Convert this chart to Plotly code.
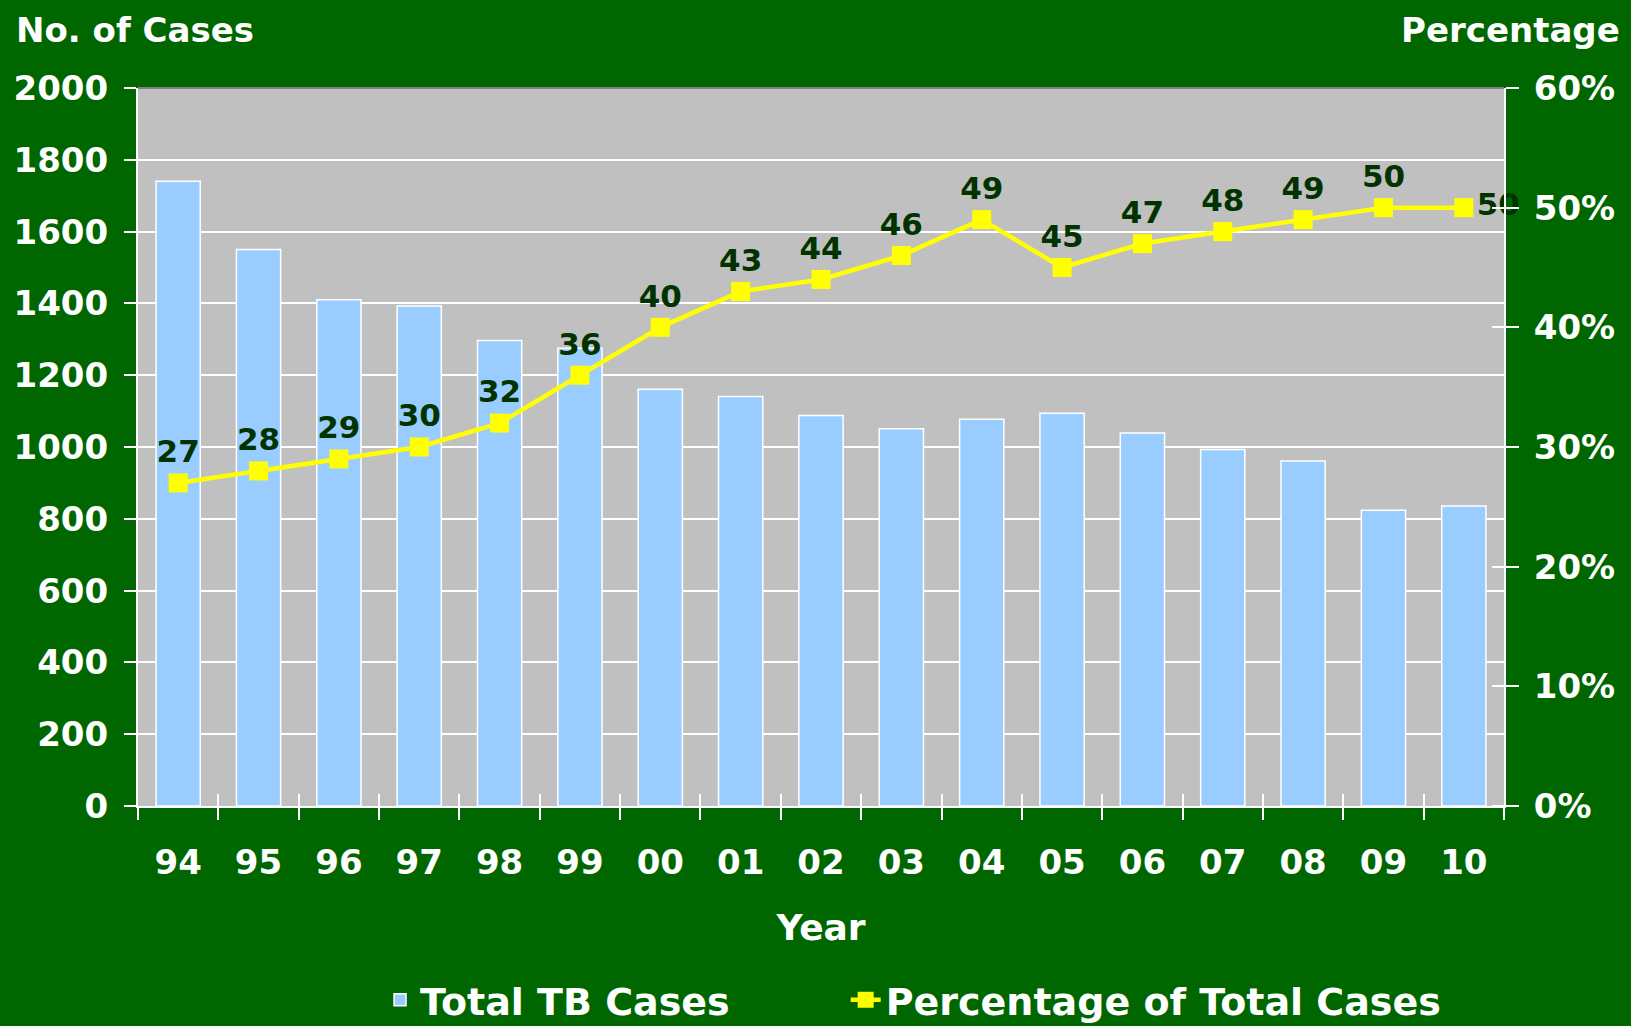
import plotly.graph_objects as go

years = ["94", "95", "96", "97", "98", "99", "00", "01", "02", "03",
         "04", "05", "06", "07", "08", "09", "10"]
total_cases = [1740, 1550, 1410, 1393, 1297, 1275, 1161, 1141, 1088, 1051,
               1077, 1094, 1039, 993, 961, 824, 836]
percentage = [27, 28, 29, 30, 32, 36, 40, 43, 44, 46, 49, 45, 47, 48, 49, 50, 50]
pct_labels = [str(v) for v in percentage]
text_pos = ["top center"] * (len(years) - 1) + ["middle right"]

FONT = "DejaVu Sans"
GREEN = "#006600"
WHITE = "#FFFFFF"

fig = go.Figure()

fig.add_trace(go.Bar(
    x=years, y=total_cases, name="Total TB Cases",
    marker=dict(color="#99CCFF", line=dict(color=WHITE, width=1.5)),
    hoverinfo="x+y", legend="legend",
))

fig.add_trace(go.Scatter(
    x=years, y=percentage, name="Percentage of Total Cases", yaxis="y2",
    mode="lines+markers+text",
    line=dict(color="#FFFF00", width=4.5),
    marker=dict(symbol="square", size=19, color="#FFFF00"),
    text=pct_labels, textposition=text_pos,
    textfont=dict(family=FONT, size=31, color="#003300", weight="bold"),
    cliponaxis=False, legend="legend2",
))

# helper trace for the inner half of the category-boundary ticks
fig.add_trace(go.Scatter(
    x=years, y=[None] * len(years), xaxis="x2", yaxis="y",
    showlegend=False, hoverinfo="skip", mode="lines",
))

tickfont = dict(family=FONT, size=34, color=WHITE, weight="bold")
legfont = dict(family=FONT, size=38, color=WHITE, weight="bold")

fig.update_layout(
    width=1631, height=1026,
    paper_bgcolor=GREEN, plot_bgcolor="#C0C0C0",
    margin=dict(l=138, r=127, t=88, b=220, autoexpand=False),
    bargap=0.45,
    font=dict(family=FONT, color=WHITE),
    xaxis=dict(
        type="category", categoryarray=years, range=[-0.5, 16.5],
        tickson="boundaries", ticks="outside", ticklen=12, tickwidth=2,
        tickcolor=WHITE, showline=True, linecolor=WHITE, linewidth=2,
        showgrid=False, tickfont=tickfont, ticklabelstandoff=25, automargin=False,
        title=dict(text="Year", font=dict(family=FONT, size=36, color=WHITE, weight="bold"),
                   standoff=34),
    ),
    xaxis2=dict(
        type="category", categoryarray=years, range=[-0.5, 16.5],
        overlaying="x", side="bottom", tickson="boundaries",
        ticks="inside", ticklen=12, tickwidth=2, tickcolor=WHITE,
        showticklabels=False, showgrid=False, showline=False, automargin=False,
    ),
    yaxis=dict(
        range=[0, 2000], dtick=200, tick0=0,
        ticks="outside", ticklen=12, tickwidth=2, tickcolor=WHITE,
        showline=True, linecolor=WHITE, linewidth=2,
        showgrid=True, gridcolor=WHITE, gridwidth=2, automargin=False,
        tickfont=tickfont, ticklabelstandoff=9, zeroline=False,
    ),
    yaxis2=dict(
        range=[0, 60], dtick=10, tick0=0, ticksuffix="%",
        overlaying="y", side="right",
        ticks="outside", ticklen=13, tickwidth=2, tickcolor=WHITE,
        minor=dict(ticks="inside", ticklen=12, tickwidth=2, tickcolor=WHITE, dtick=10, tick0=0,
                   showgrid=False),
        showline=True, linecolor=WHITE, linewidth=2, automargin=False,
        showgrid=False, zeroline=False,
        tickfont=tickfont, ticklabelstandoff=8,
    ),
    legend=dict(
        orientation="h", xref="container", yref="container",
        x=0.233, xanchor="left", y=0.0253, yanchor="middle",
        font=legfont, bgcolor="rgba(0,0,0,0)",
    ),
    legend2=dict(
        orientation="h", xref="container", yref="container",
        x=0.5185, xanchor="left", y=0.0253, yanchor="middle",
        font=legfont, bgcolor="rgba(0,0,0,0)",
    ),
    showlegend=True,
    shapes=[dict(type="line", xref="paper", yref="paper", x0=0, x1=1, y0=1, y1=1,
                 line=dict(color="#808080", width=2), layer="above")],
    annotations=[
        dict(text="No. of Cases", xref="paper", yref="paper", x=-0.0911, y=1.0,
             xanchor="left", yanchor="bottom", yshift=36, showarrow=False,
             font=dict(family=FONT, size=34, color=WHITE, weight="bold")),
        dict(text="Percentage", xref="paper", yref="paper", x=1.0864, y=1.0,
             xanchor="right", yanchor="bottom", yshift=36, showarrow=False,
             font=dict(family=FONT, size=34, color=WHITE, weight="bold")),
    ],
)

fig.write_html("out.html", config={"displayModeBar": False},
               post_script="document.body.style.margin='0';document.body.style.overflow='hidden';")
